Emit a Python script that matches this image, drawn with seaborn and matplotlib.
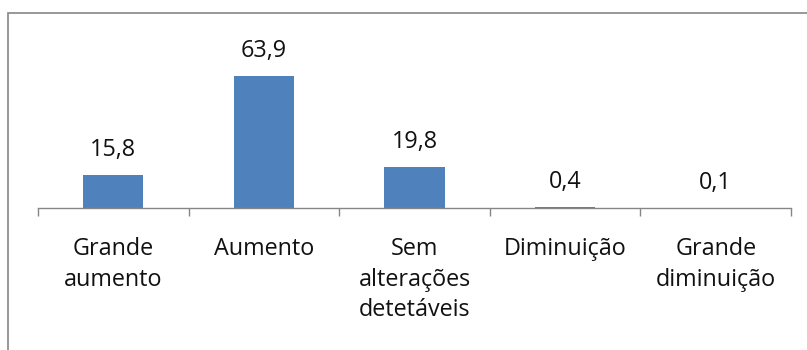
import matplotlib
matplotlib.use("Agg")
import matplotlib.pyplot as plt
import seaborn as sns
import pandas as pd
from matplotlib.patches import Rectangle

categories = ["Grande\naumento", "Aumento", "Sem\nalterações\ndetetáveis",
              "Diminuição", "Grande\ndiminuição"]
values = [15.8, 63.9, 19.8, 0.4, 0.1]
value_labels = ["15,8", "63,9", "19,8", "0,4", "0,1"]

sns.set_theme(style="white")
plt.rcParams["font.family"] = ["Open Sans", "DejaVu Sans"]

W, H = 807, 350
fig = plt.figure(figsize=(W / 100, H / 100), dpi=100)
ax = fig.add_axes([38 / W, (H - 208) / H, (791 - 38) / W, (208 - 63.4) / H])

df = pd.DataFrame({"cat": categories, "val": values})
sns.barplot(data=df, x="cat", y="val", color="#4F81BD", width=0.4,
            saturation=1, edgecolor="none", ax=ax)

ax.set_ylim(0, 70)
ax.set_xlim(-0.5, len(categories) - 0.5)
ax.set_xlabel("")
ax.set_ylabel("")
ax.set_yticks([])

for s in ["top", "right", "left"]:
    ax.spines[s].set_visible(False)
ax.spines["bottom"].set_color("#868686")
ax.spines["bottom"].set_linewidth(1.0)

# category boundary ticks below the axis
ax.set_xticks([i - 0.5 for i in range(len(categories) + 1)], minor=True)
ax.tick_params(axis="x", which="minor", direction="out", length=6,
               width=1.0, color="#868686", bottom=True)
ax.tick_params(axis="x", which="major", length=0, pad=21, labelsize=16.8,
               labelcolor="#111111")
for lbl in ax.get_xticklabels():
    lbl.set_linespacing(1.36)
    lbl.set_verticalalignment("top")

for i, (v, t) in enumerate(zip(values, value_labels)):
    ax.annotate(t, (i, v), xytext=(0, 9.5), textcoords="offset points",
                ha="center", va="bottom", fontsize=16.8, color="#111111")

# outer chart frame
fig.patches.append(Rectangle((8 / W, -0.1), 1.2, (H - 13) / H + 0.1,
                             transform=fig.transFigure, fill=False,
                             edgecolor="#868686", linewidth=1.2))

fig.savefig("out.png", dpi=100)
